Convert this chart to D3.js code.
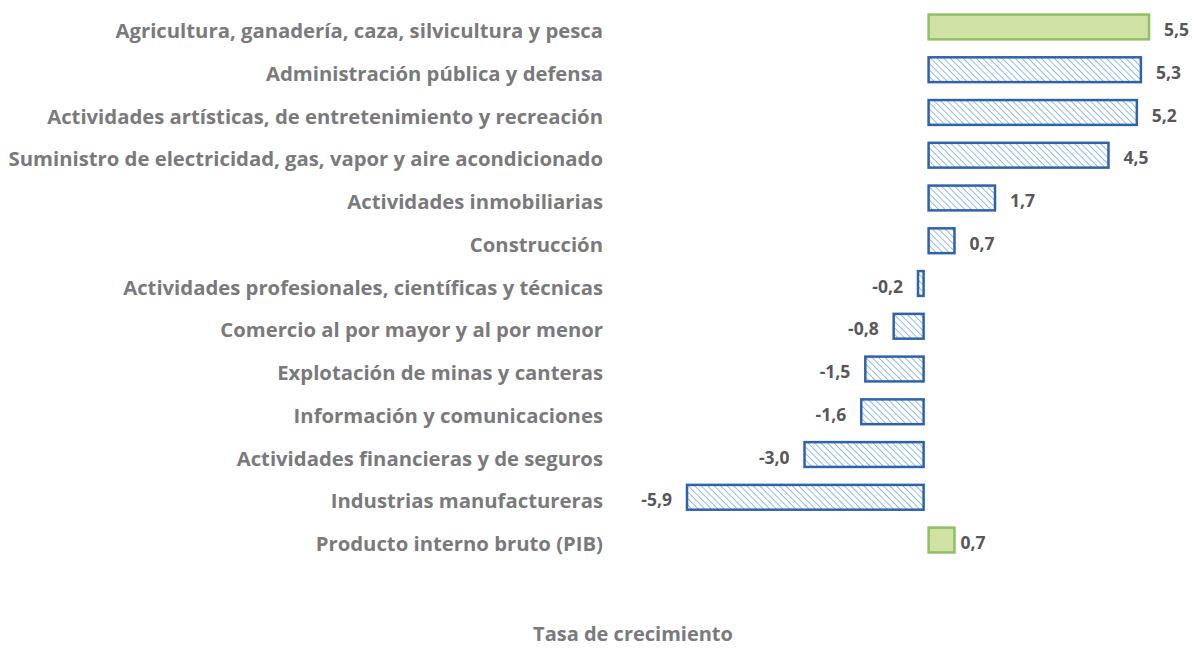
<!DOCTYPE html>
<html lang="es">
  <head>
    <meta charset="utf-8">
    <title>Tasa de crecimiento por actividad</title>
    <script src="https://cdn.jsdelivr.net/npm/d3@7"></script>
    <style>
      body { margin: 0; background: #fff; }
      .cat { font-family: "Open Sans", Lato, sans-serif; font-weight: 700; font-size: 20.3px; fill: #7a7a7c; }
      .val { font-family: "Open Sans", Lato, sans-serif; font-weight: 700; font-size: 17.5px; fill: #58585a; }
      .title { font-family: "Open Sans", Lato, sans-serif; font-weight: 700; font-size: 20px; fill: #7a7a7c; }
    </style>
  </head>
  <body>
    <svg width="1196" height="648"></svg>
    <script>
    // data, top to bottom
    var categories = [
      "Agricultura, ganadería, caza, silvicultura y pesca",
      "Administración pública y defensa",
      "Actividades artísticas, de entretenimiento y recreación",
      "Suministro de electricidad, gas, vapor y aire acondicionado",
      "Actividades inmobiliarias",
      "Construcción",
      "Actividades profesionales, científicas y técnicas",
      "Comercio al por mayor y al por menor",
      "Explotación de minas y canteras",
      "Información y comunicaciones",
      "Actividades financieras y de seguros",
      "Industrias manufactureras",
      "Producto interno bruto (PIB)"
    ];
    var values = [5.5, 5.3, 5.2, 4.5, 1.7, 0.7, -0.2, -0.8, -1.5, -1.6, -3.0, -5.9, 0.7];
    // highlighted rows (solid green) vs hatched
    var highlighted = ["Agricultura, ganadería, caza, silvicultura y pesca", "Producto interno bruto (PIB)"];
    var axisTitle = "Tasa de crecimiento";

    var svg = d3.select("svg");

    // comma decimals, plain hyphen for negatives
    var fmt = function(v) { return (v < 0 ? "-" : "") + Math.abs(v).toFixed(1).replace(".", ","); };

    var x = d3.scaleLinear().domain([-5.9, 5.5]).range([687, 1149]);
    var y = d3.scaleBand().domain(categories).range([6, 561]).paddingInner(0.42).paddingOuter(0.2);

    var defs = svg.append("defs");
    var pat = defs.append("pattern")
        .attr("id", "hatch")
        .attr("patternUnits", "userSpaceOnUse")
        .attr("width", 4.6).attr("height", 4.6)
        .attr("patternTransform", "rotate(-45)");
    pat.append("rect").attr("width", 4.6).attr("height", 4.6).attr("fill", "#fff");
    pat.append("line")
        .attr("x1", 0).attr("y1", 0).attr("x2", 0).attr("y2", 4.6)
        .attr("stroke", "#6fa8dc").attr("stroke-width", 1.5);

    var rows = categories.map(function(c, i) { return { cat: c, v: values[i] }; });
    var isHi = function(d) { return highlighted.indexOf(d.cat) >= 0; };
    var gap = 2.5; // small gap between the two sides of zero

    svg.selectAll(".bar")
      .data(rows)
      .enter().append("rect")
        .attr("class", "bar")
        .attr("x", function(d) { return d.v >= 0 ? x(0) + gap : x(d.v); })
        .attr("width", function(d) { return Math.abs(x(d.v) - x(0)) - gap; })
        .attr("y", function(d) { return y(d.cat); })
        .attr("height", y.bandwidth())
        .attr("fill", function(d) { return isHi(d) ? "#cfe2a3" : "url(#hatch)"; })
        .attr("stroke", function(d) { return isHi(d) ? "#8dc163" : "#2f62ad"; })
        .attr("stroke-width", 2.5);

    svg.selectAll(".cat")
      .data(rows)
      .enter().append("text")
        .attr("class", "cat")
        .attr("x", 603)
        .attr("y", function(d) { return y(d.cat) + y.bandwidth() / 2 + 4; })
        .attr("dy", "0.35em")
        .attr("text-anchor", "end")
        .text(function(d) { return d.cat; });

    svg.selectAll(".val")
      .data(rows)
      .enter().append("text")
        .attr("class", "val")
        .attr("x", function(d) {
          var off = d.cat === "Producto interno bruto (PIB)" ? 6 : 15;
          return d.v >= 0 ? x(d.v) + off : x(d.v) - off;
        })
        .attr("y", function(d) { return y(d.cat) + y.bandwidth() / 2 + 3; })
        .attr("dy", "0.35em")
        .attr("text-anchor", function(d) { return d.v >= 0 ? "start" : "end"; })
        .text(function(d) { return fmt(d.v); });

    svg.append("text")
        .attr("class", "title")
        .attr("x", 633)
        .attr("y", 634)
        .attr("dy", "0.35em")
        .attr("text-anchor", "middle")
        .text(axisTitle);
    </script>
  </body>
</html>
